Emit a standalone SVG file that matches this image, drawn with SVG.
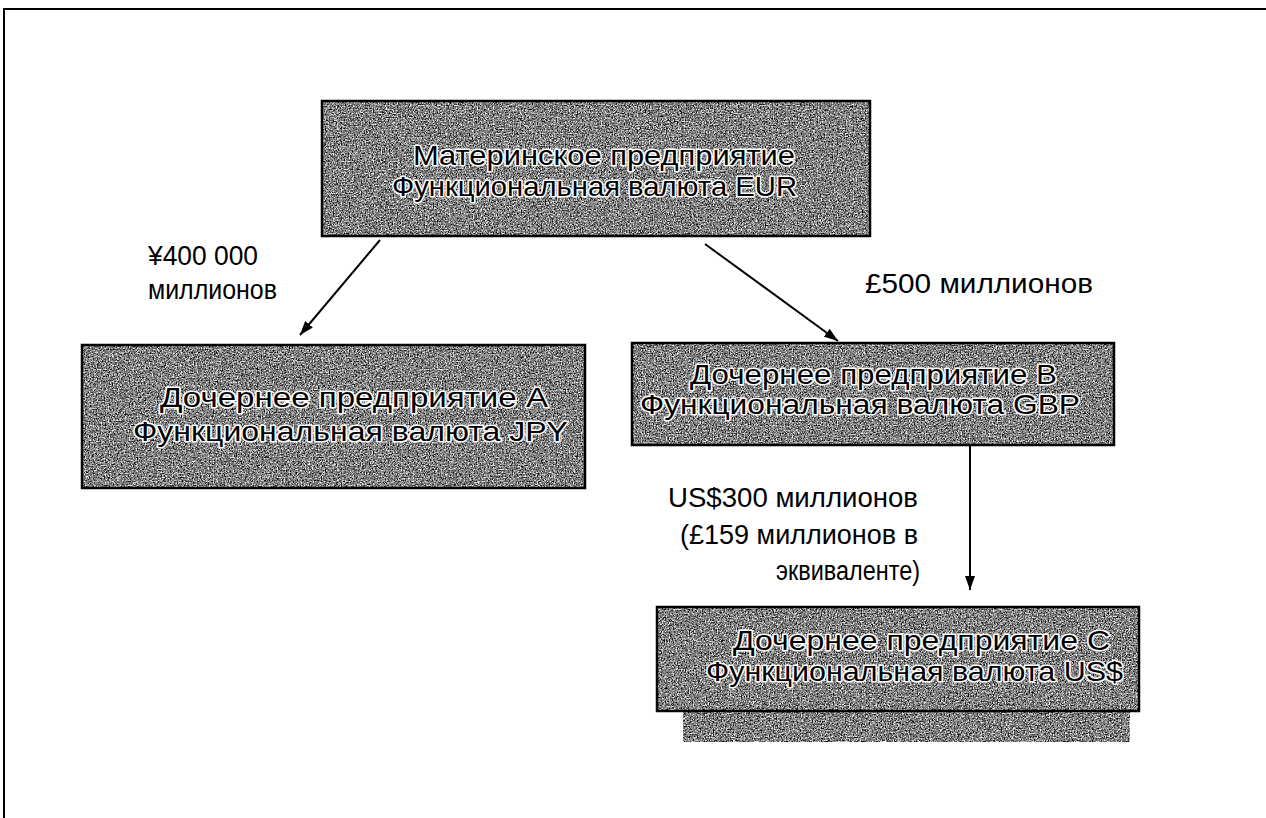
<svg xmlns="http://www.w3.org/2000/svg" width="1266" height="818" viewBox="0 0 1266 818">
<style>
.frame{fill:none;stroke:#000;stroke-width:2}
.box{fill:#888;filter:url(#grain)}
.border{fill:none;stroke:#000;stroke-width:2.5}
.bt{font-family:"Liberation Sans",Arial,sans-serif;font-size:28px;fill:#000;stroke:#fff;stroke-width:3;stroke-linejoin:round;paint-order:stroke}
.lbl{font-family:"Liberation Sans",Arial,sans-serif;font-size:27px;fill:#000}
.conn{stroke:#000;stroke-width:2;fill:none;marker-end:url(#arr)}
</style>
<defs>
<filter id="grain" x="0" y="0" width="1" height="1" color-interpolation-filters="sRGB">
<feTurbulence type="fractalNoise" baseFrequency="0.75" numOctaves="2" seed="7" result="t"/>
<feColorMatrix in="t" type="matrix" values="0.3 0.3 0.3 0 0 0.3 0.3 0.3 0 0 0.3 0.3 0.3 0 0 0 0 0 0 1" result="g"/>
<feComponentTransfer in="g" result="c">
<feFuncR type="linear" slope="4" intercept="-1.3"/>
<feFuncG type="linear" slope="4" intercept="-1.3"/>
<feFuncB type="linear" slope="4" intercept="-1.3"/>
</feComponentTransfer>
<feComposite in="c" in2="SourceGraphic" operator="in"/>
</filter>
<marker id="arr" viewBox="0 0 14 10" refX="14" refY="5" markerWidth="14" markerHeight="10" markerUnits="userSpaceOnUse" orient="auto">
<path d="M0,0 L14,5 L0,10 Z" fill="#000"/>
</marker>
</defs>
<rect width="1266" height="818" fill="#fff"/>
<path class="frame" d="M4,818 L4,9 L1266,9"/>

<g id="parent">
<rect class="box" x="322" y="101" width="548" height="135"/>
<rect class="border" x="322" y="101" width="548" height="135"/>
<text class="bt" x="413" y="165" textLength="382" lengthAdjust="spacingAndGlyphs">Материнское предприятие</text>
<text class="bt" x="392" y="196" textLength="405" lengthAdjust="spacingAndGlyphs">Функциональная валюта EUR</text>
</g>

<g id="subA">
<rect class="box" x="82" y="345" width="503" height="143"/>
<rect class="border" x="82" y="345" width="503" height="143"/>
<text class="bt" x="160" y="407" textLength="388" lengthAdjust="spacingAndGlyphs">Дочернее предприятие А</text>
<text class="bt" x="133" y="441" textLength="435" lengthAdjust="spacingAndGlyphs">Функциональная валюта JPY</text>
</g>

<g id="subB">
<rect class="box" x="632" y="343" width="482" height="102"/>
<rect class="border" x="632" y="343" width="482" height="102"/>
<text class="bt" x="690" y="384" textLength="367" lengthAdjust="spacingAndGlyphs">Дочернее предприятие В</text>
<text class="bt" x="640" y="414" textLength="440" lengthAdjust="spacingAndGlyphs">Функциональная валюта GBP</text>
</g>

<g id="subC">
<rect class="box" x="683" y="700" width="447" height="42"/>
<rect class="box" x="657" y="607" width="482" height="104"/>
<rect class="border" x="657" y="607" width="482" height="104"/>
<text class="bt" x="733" y="650" textLength="377" lengthAdjust="spacingAndGlyphs">Дочернее предприятие С</text>
<text class="bt" x="706" y="681" textLength="417" lengthAdjust="spacingAndGlyphs">Функциональная валюта US$</text>
</g>

<g id="connectors">
<line class="conn" x1="380" y1="240" x2="300" y2="335"/>
<line class="conn" x1="705" y1="244" x2="838" y2="341"/>
<line class="conn" x1="970" y1="446" x2="970" y2="590"/>
</g>

<g id="labels">
<text class="lbl" x="148" y="265" textLength="110" lengthAdjust="spacingAndGlyphs">¥400 000</text>
<text class="lbl" x="148" y="299" textLength="129" lengthAdjust="spacingAndGlyphs">миллионов</text>
<text class="lbl" x="865" y="293" textLength="228" lengthAdjust="spacingAndGlyphs">£500 миллионов</text>
<text class="lbl" x="668" y="507" textLength="250" lengthAdjust="spacingAndGlyphs">US$300 миллионов</text>
<text class="lbl" x="680" y="544" textLength="238" lengthAdjust="spacingAndGlyphs">(£159 миллионов в</text>
<text class="lbl" x="776" y="580" textLength="144" lengthAdjust="spacingAndGlyphs">эквиваленте)</text>
</g>
</svg>
